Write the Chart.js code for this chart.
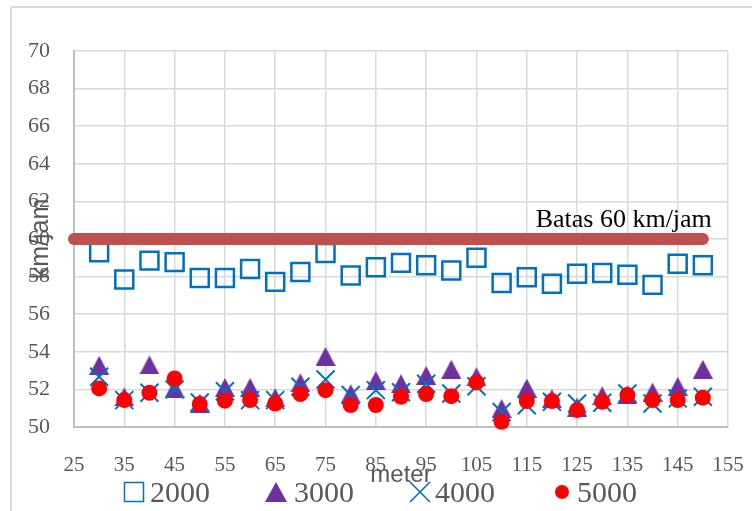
<!DOCTYPE html>
<html><head><meta charset="utf-8">
<script src="https://cdn.jsdelivr.net/npm/chart.js@4.4.1/dist/chart.umd.min.js"></script>
<style>html,body{margin:0;padding:0;background:#fff;overflow:hidden}#wrap{width:752px;height:511px;position:relative}</style>
</head><body><div id="wrap"><canvas id="c" width="752" height="511"></canvas></div>
<script>
// ---- data ----
const meters = [30,35,40,45,50,55,60,65,70,75,80,85,90,95,100,105,110,115,120,125,130,135,140,145,150];
const seriesLabels = ['2000','3000','4000','5000'];
const s2000 = [59.30,57.85,58.85,58.77,57.92,57.92,58.40,57.72,58.25,59.25,58.06,58.50,58.73,58.60,58.33,59.00,57.66,57.97,57.62,58.15,58.19,58.10,57.56,58.68,58.60];
const s3000 = [53.28,51.60,53.30,52.05,51.27,52.10,52.10,51.56,52.35,53.75,51.77,52.47,52.30,52.74,53.07,52.67,50.99,52.07,51.50,51.06,51.66,51.71,51.86,52.16,53.07];
const s4000 = [52.67,51.43,51.82,52.00,51.30,51.90,51.43,51.43,52.14,52.53,51.70,51.96,51.85,52.30,51.78,52.17,50.80,51.16,51.34,51.25,51.29,51.78,51.25,51.52,51.61];
const s5000 = [52.05,51.43,51.82,52.58,51.22,51.40,51.43,51.25,51.75,51.96,51.17,51.17,51.61,51.75,51.64,52.37,50.28,51.38,51.38,50.90,51.34,51.70,51.43,51.43,51.56];
const batasX = [25,150];
const batasY = [60,60];
const batasLabel = 'Batas 60 km/jam';
const xTitle = 'meter';
const yTitle = 'km/jam';
const xMin = 25, xMax = 155, xStep = 10;
const yMin = 50, yMax = 70, yStep = 2;

const pts = arr => meters.map((m,i)=>({x:m,y:arr[i]}));

function triCanvas(w,h){
  const c=document.createElement('canvas'); c.width=w; c.height=h;
  const g=c.getContext('2d'); g.fillStyle='#7030A0';
  g.beginPath(); g.moveTo(w/2,0); g.lineTo(w,h); g.lineTo(0,h); g.closePath(); g.fill();
  return c;
}
const tri = triCanvas(20,19);

const SERIF = '"Liberation Serif","Times New Roman",serif';
const SANS = '"Liberation Sans",Arial,sans-serif';

const extras = {
  id:'extras',
  beforeDraw(chart){
    const ctx=chart.ctx; ctx.save();
    ctx.strokeStyle='#D9D9D9'; ctx.lineWidth=2;
    ctx.strokeRect(11,7,800,600);
    ctx.restore();
  },
  afterDraw(chart){
    const ctx=chart.ctx, xs=chart.scales.x, ys=chart.scales.y;
    ctx.save();
    // batas label
    ctx.font='26px '+SERIF; ctx.fillStyle='#000'; ctx.textAlign='right'; ctx.textBaseline='alphabetic';
    ctx.fillText(batasLabel, xs.getPixelForValue(batasX[1])+9, ys.getPixelForValue(batasY[0])-12);
    // legend
    const items=[{sx:134,tx:150},{sx:276,tx:294},{sx:420,tx:435},{sx:562,tx:577}];
    const cy=492;
    items.forEach((it,i)=>{
      ctx.save();
      if(i===0){ctx.strokeStyle='#0070C0';ctx.lineWidth=1.5;ctx.strokeRect(it.sx-9.5,cy-9.5,19,19);}
      if(i===1){ctx.fillStyle='#7030A0';ctx.beginPath();ctx.moveTo(it.sx,cy-10);ctx.lineTo(it.sx+11,cy+10);ctx.lineTo(it.sx-11,cy+10);ctx.closePath();ctx.fill();}
      if(i===2){ctx.strokeStyle='#0070C0';ctx.lineWidth=1.6;ctx.beginPath();ctx.moveTo(it.sx-10,cy-10);ctx.lineTo(it.sx+10,cy+10);ctx.moveTo(it.sx+10,cy-10);ctx.lineTo(it.sx-10,cy+10);ctx.stroke();}
      if(i===3){ctx.fillStyle='#FF0000';ctx.beginPath();ctx.arc(it.sx,cy,7,0,Math.PI*2);ctx.fill();}
      ctx.restore();
      ctx.font='30px '+SERIF; ctx.fillStyle='#595959'; ctx.textAlign='left'; ctx.textBaseline='alphabetic';
      ctx.fillText(seriesLabels[i], it.tx, 502);
    });
    ctx.restore();
  }
};

new Chart(document.getElementById('c'),{
  type:'scatter',
  data:{datasets:[
    {label:'Batas', type:'line', data:batasX.map((x,i)=>({x,y:batasY[i]})), borderColor:'#C0504D', borderWidth:12, borderCapStyle:'round', pointRadius:0, showLine:true, fill:false, order:0, clip:false},
    {label:seriesLabels[0], data:pts(s2000), pointStyle:'rect', pointRadius:12.7, borderWidth:2.5, borderColor:'#0070C0', backgroundColor:'rgba(0,0,0,0)', order:4, clip:false},
    {label:seriesLabels[1], data:pts(s3000), pointStyle:tri, pointRadius:10, backgroundColor:'#7030A0', borderColor:'#7030A0', order:3, clip:false},
    {label:seriesLabels[2], data:pts(s4000), pointStyle:'crossRot', pointRadius:12.7, borderWidth:2, borderColor:'#0070C0', order:2, clip:false},
    {label:seriesLabels[3], data:pts(s5000), pointStyle:'circle', pointRadius:8, borderWidth:0, backgroundColor:'#FF0000', borderColor:'#FF0000', order:1, clip:false}
  ]},
  options:{
    responsive:false, animation:false,
    layout:{padding:{left:0,top:51,right:24,bottom:0}},
    plugins:{legend:{display:false}, tooltip:{enabled:false}},
    elements:{point:{hoverRadius:0}},
    scales:{
      x:{type:'linear', min:xMin, max:xMax,
        afterFit(s){s.height=84; s.paddingLeft=0; s.paddingRight=0;},
        afterBuildTicks(s){s.ticks=[];for(let v=xMin;v<=xMax;v+=xStep)s.ticks.push({value:v});},
        ticks:{stepSize:xStep, font:{family:SERIF,size:21}, color:'#595959', padding:26, maxRotation:0, autoSkip:false},
        grid:{color:'#D9D9D9', lineWidth:1.5, drawTicks:false},
        border:{color:'#BFBFBF', width:2},
        title:{display:true, text:xTitle, font:{family:SANS,size:24}, color:'#595959', padding:{top:0,bottom:21}}
      },
      y:{type:'linear', min:yMin, max:yMax,
        afterFit(s){s.width=74; s.paddingTop=0; s.paddingBottom=0;},
        ticks:{stepSize:yStep, font:{family:SERIF,size:22}, color:'#595959', padding:24},
        grid:{color:'#D9D9D9', lineWidth:1.5, drawTicks:false},
        border:{color:'#BFBFBF', width:2},
        title:{display:true, text:yTitle, font:{family:SANS,size:25}, color:'#595959', padding:{top:26,bottom:0}}
      }
    }
  },
  plugins:[extras]
});
</script></body></html>
